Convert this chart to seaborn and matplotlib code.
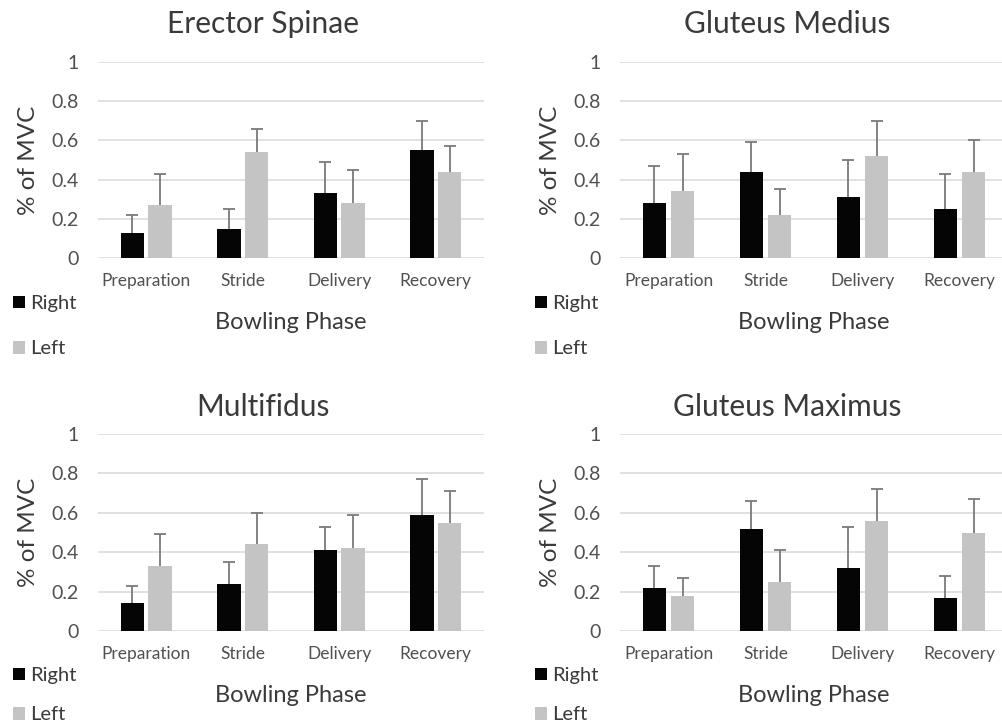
import numpy as np
import pandas as pd
import matplotlib
matplotlib.use('Agg')
import matplotlib.pyplot as plt
import seaborn as sns

phases = ['Preparation', 'Stride', 'Delivery', 'Recovery']
sides = ['Right', 'Left']
muscles = ['Erector Spinae', 'Gluteus Medius', 'Multifidus', 'Gluteus Maximus']

# mean % of MVC and SD (upper error bar only) per phase
es_right = [0.13, 0.15, 0.33, 0.55]
es_right_sd = [0.09, 0.10, 0.16, 0.15]
es_left = [0.27, 0.54, 0.28, 0.44]
es_left_sd = [0.16, 0.12, 0.17, 0.13]

gmed_right = [0.28, 0.44, 0.31, 0.25]
gmed_right_sd = [0.19, 0.15, 0.19, 0.18]
gmed_left = [0.34, 0.22, 0.52, 0.44]
gmed_left_sd = [0.19, 0.13, 0.18, 0.16]

mf_right = [0.14, 0.24, 0.41, 0.59]
mf_right_sd = [0.09, 0.11, 0.12, 0.18]
mf_left = [0.33, 0.44, 0.42, 0.55]
mf_left_sd = [0.16, 0.16, 0.17, 0.16]

gmax_right = [0.22, 0.52, 0.32, 0.17]
gmax_right_sd = [0.11, 0.14, 0.21, 0.11]
gmax_left = [0.18, 0.25, 0.56, 0.50]
gmax_left_sd = [0.09, 0.16, 0.16, 0.17]

yticks = [0, 0.2, 0.4, 0.6, 0.8, 1]
ytick_labels = ['0', '0.2', '0.4', '0.6', '0.8', '1']

series = {
    'Erector Spinae': (es_right, es_right_sd, es_left, es_left_sd),
    'Gluteus Medius': (gmed_right, gmed_right_sd, gmed_left, gmed_left_sd),
    'Multifidus': (mf_right, mf_right_sd, mf_left, mf_left_sd),
    'Gluteus Maximus': (gmax_right, gmax_right_sd, gmax_left, gmax_left_sd),
}

rows = []
for m in muscles:
    r, rsd, l, lsd = series[m]
    for i, p in enumerate(phases):
        rows.append({'muscle': m, 'phase': p, 'side': 'Right', 'value': r[i], 'sd': rsd[i]})
        rows.append({'muscle': m, 'phase': p, 'side': 'Left', 'value': l[i], 'sd': lsd[i]})
df = pd.DataFrame(rows)

sns.set_style('white')
plt.rcParams['font.family'] = ['Lato', 'DejaVu Sans']

W, H = 1002, 728
fig = plt.figure(figsize=(W / 100, H / 100), dpi=100)
fig.patch.set_facecolor('white')

# axes boxes in pixels: left, top(value 1), right, bottom(value 0)
boxes = [(98, 62, 484, 258), (620, 62, 1008, 258),
         (98, 434, 484, 631), (620, 434, 1008, 631)]
title_pos = [(263, 24), (787, 24), (263, 407), (787, 407)]
legend_pos = [(3, 285), (525, 285), (3, 657), (525, 657)]
legend_gap = [1.4, 1.4, 1.1, 1.1]

text_col = '#3a3a3a'
tick_col = '#505050'
err_col = '#7a7a7a'
palette = {'Right': '#050505', 'Left': '#c4c4c4'}

for k, m in enumerate(muscles):
    l, t, r, b = boxes[k]
    ax = fig.add_axes([l / W, 1 - b / H, (r - l) / W, (b - t) / H])
    sub = df[df['muscle'] == m]
    sns.barplot(data=sub, x='phase', y='value', hue='side', order=phases, hue_order=sides,
                palette=palette, width=0.58, gap=0.16, errorbar=None, linewidth=0, ax=ax)

    # upper-only error bars at the bar positions seaborn drew
    for side, cont in zip(sides, ax.containers):
        sds = sub[sub['side'] == side].set_index('phase').loc[phases, 'sd'].values
        xs = np.array([p.get_x() + p.get_width() / 2 for p in cont])
        hs = np.array([p.get_height() for p in cont])
        ax.vlines(xs, hs, hs + sds, color=err_col, linewidth=1.3, zorder=3)
        ax.plot(xs, hs + sds, linestyle='none', marker='_', markersize=8,
                markeredgewidth=1.3, color=err_col, zorder=3)

    ax.set_ylim(0, 1)
    ax.set_xlim(-0.5, 3.5)
    ax.set_yticks(yticks)
    ax.set_yticklabels(ytick_labels)
    ax.yaxis.grid(True, color='#d9d9d9', linewidth=1.1, zorder=0)
    ax.set_axisbelow(True)
    for s in ax.spines.values():
        s.set_visible(False)
    ax.tick_params(axis='y', length=0, pad=14, labelsize=14, labelcolor=tick_col)
    ax.tick_params(axis='x', length=0, pad=11, labelsize=12.5, labelcolor=tick_col)

    ax.set_ylabel('% of MVC', fontsize=17.5, color=text_col)
    ax.yaxis.set_label_coords(-0.18, 0.5)
    ax.yaxis.label.set_va('center')
    ax.set_xlabel('Bowling Phase', fontsize=17, color=text_col)
    ax.xaxis.set_label_coords(0.5, -0.327)
    ax.xaxis.label.set_va('center')

    fig.text(title_pos[k][0] / W, 1 - title_pos[k][1] / H, m, fontsize=21.5,
             color=text_col, ha='center', va='center')

    handles, labels = ax.get_legend_handles_labels()
    ax.get_legend().remove()
    lx, ly = legend_pos[k]
    fig.legend(handles, labels, loc='upper left', bbox_to_anchor=(lx / W, 1 - ly / H),
               frameon=False, fontsize=14.5, handlelength=0.6, handleheight=0.6,
               handletextpad=0.25, labelspacing=legend_gap[k], borderpad=0, labelcolor=text_col)

fig.savefig('out.png', dpi=100, facecolor='white')
